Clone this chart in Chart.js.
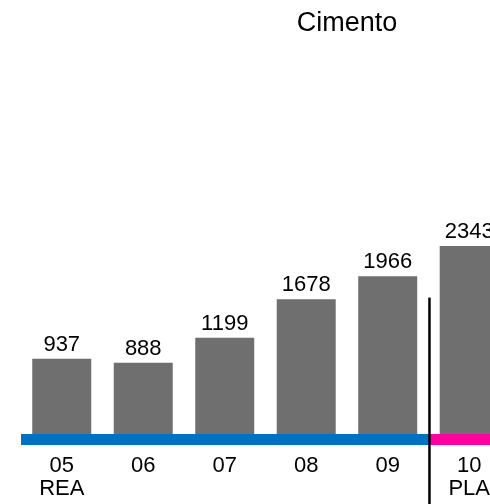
<!DOCTYPE html>
<html>
<head>
<meta charset="utf-8">
<script src="https://cdn.jsdelivr.net/npm/chart.js@4.4.0/dist/chart.umd.min.js"></script>
<style>
  body { margin: 0; background: #fff; }
  #wrap { width: 490px; height: 504px; overflow: hidden; position: relative; }
</style>
</head>
<body>
<div id="wrap"><canvas id="chart" width="510" height="504"></canvas></div>
<script>
// Cimento - realizado (REA) vs planejado (PLA)
const years = ['05', '06', '07', '08', '09', '10'];
const subLabels = ['REA', '', '', '', '', 'PLA'];
const values = [937, 888, 1199, 1678, 1966, 2343];
const titleText = 'Cimento';

const FONT = '"Liberation Sans", Arial, sans-serif';
const BAR_GRAY = '#6f6f6f';
const BLUE = '#0070c0';
const PINK = '#ff00a0';
const lastRealIndex = 4; // 09 is the last "REA" year

// band under the bars + separator line + title + value labels
const decorPlugin = {
  id: 'decor',
  afterDatasetsDraw(chart) {
    const ctx = chart.ctx;
    const x = chart.scales.x;
    const y = chart.scales.y;
    const area = chart.chartArea;
    const split = (x.getPixelForTick(lastRealIndex) + x.getPixelForTick(lastRealIndex + 1)) / 2 + 1;

    ctx.save();
    // blue / pink band
    ctx.fillStyle = BLUE;
    ctx.fillRect(area.left, area.bottom, split - area.left, 11);
    ctx.fillStyle = PINK;
    ctx.fillRect(split, area.bottom, area.right - split, 11);

    // separator
    ctx.strokeStyle = '#000';
    ctx.lineWidth = 2.5;
    ctx.beginPath();
    ctx.moveTo(split, y.getPixelForValue(1700));
    ctx.lineTo(split, chart.height);
    ctx.stroke();

    // values over the bars
    ctx.fillStyle = '#000';
    ctx.font = '22px ' + FONT;
    ctx.textAlign = 'center';
    ctx.textBaseline = 'alphabetic';
    chart.getDatasetMeta(0).data.forEach((bar, i) => {
      ctx.fillText(String(values[i]), bar.x, bar.y - 8);
    });

    // title
    ctx.font = '27px ' + FONT;
    ctx.fillText(titleText, 347, 31);
    ctx.restore();
  }
};

new Chart(document.getElementById('chart'), {
  type: 'bar',
  data: {
    labels: years.map((y, i) => subLabels[i] ? [y, subLabels[i]] : [y]),
    datasets: [{
      data: values,
      backgroundColor: BAR_GRAY,
      borderWidth: 0,
      categoryPercentage: 1,
      barPercentage: 0.724
    }]
  },
  options: {
    responsive: false,
    animation: false,
    layout: { padding: { left: 21, right: 0, top: 113, bottom: 0 } },
    plugins: {
      legend: { display: false },
      tooltip: { enabled: false }
    },
    scales: {
      x: {
        grid: { display: false, drawTicks: false },
        border: { display: false },
        afterFit(scale) { scale.height = 70; },
        ticks: {
          color: '#000',
          padding: 20,
          font: { family: FONT, size: 22, lineHeight: 1.05 },
          maxRotation: 0,
          autoSkip: false
        }
      },
      y: {
        display: false,
        min: 0,
        max: 4000
      }
    }
  },
  plugins: [decorPlugin]
});
</script>
</body>
</html>
